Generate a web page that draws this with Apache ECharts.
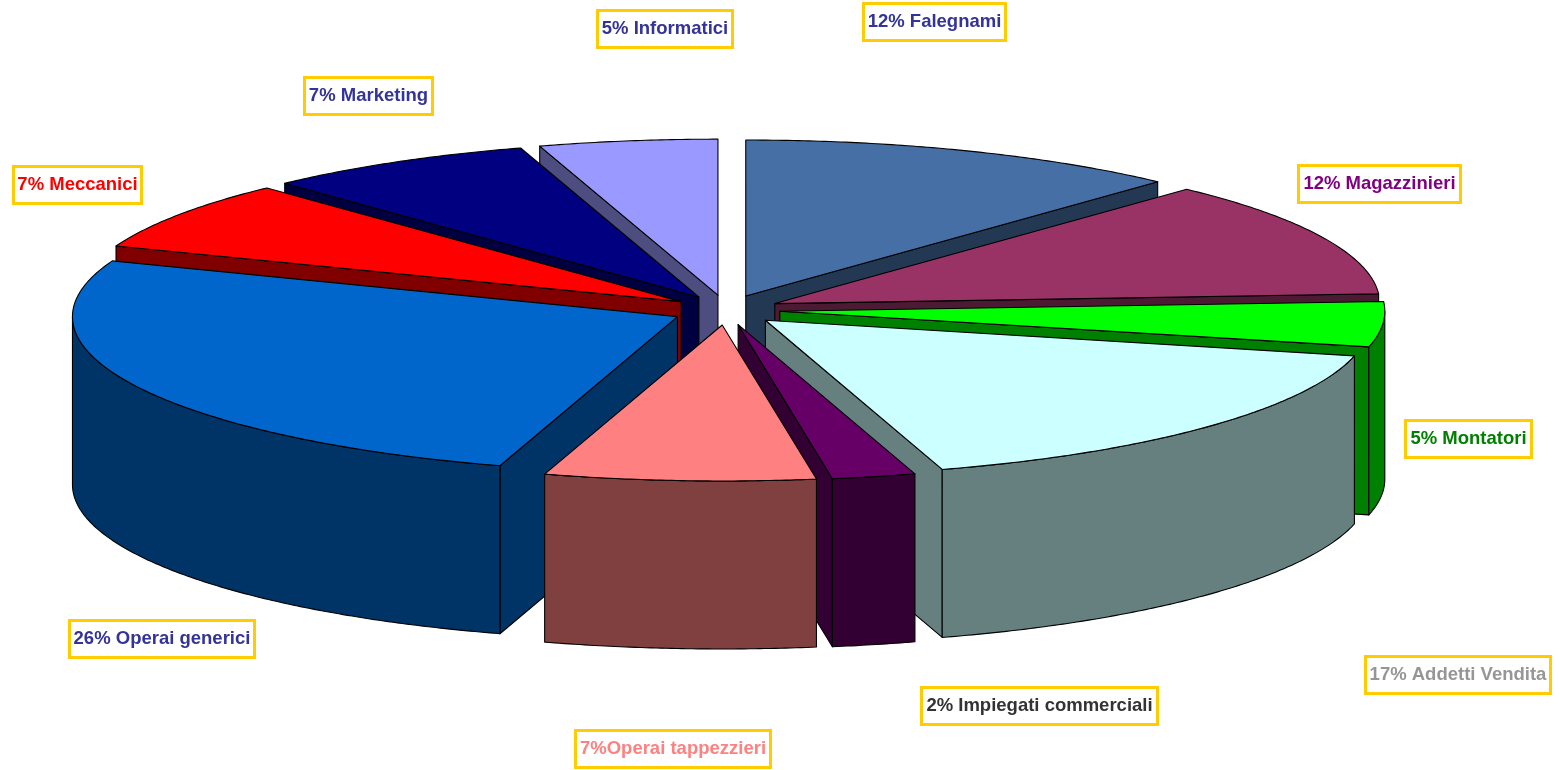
<!DOCTYPE html>
<html>
<head>
<meta charset="utf-8">
<style>html,body{margin:0;padding:0;background:#fff}#c{width:1560px;height:770px}</style>
<script src="https://cdn.jsdelivr.net/npm/echarts@6/dist/echarts.min.js"></script>
</head>
<body>
<div id="c"></div>
<script>
// Data, clockwise from 12 o'clock
const categories = ['Falegnami','Magazzinieri','Montatori','Addetti Vendita','Impiegati commerciali','Operai tappezzieri','Operai generici','Meccanici','Marketing','Informatici'];
const shares = [11.92, 12.08, 4.67, 16.61, 2.23, 7.23, 26.07, 7.19, 7.24, 4.76];
const labelTexts = ['12% Falegnami','12% Magazzinieri','5% Montatori','17% Addetti Vendita','2% Impiegati commerciali','7%Operai tappezzieri','26% Operai generici','7% Meccanici','7% Marketing','5% Informatici'];

// Styles
const topColors = ['#4670A5','#993366','#00FF00','#CCFFFF','#660066','#FF8080','#0066CC','#FF0000','#000080','#9999FF'];
const sideColors = ['#233852','#4D1A33','#008000','#668080','#330033','#804040','#003366','#800000','#000040','#4D4D80'];
const labelColors = ['#333399','#800080','#008000','#969696','#333333','#FF8080','#333399','#FF0000','#333399','#333399'];
const labelBoxes = [[863.5,3.5,142,37],[1298.5,165.5,162,37],[1405.5,420.5,126,37],[1365.5,656.5,185,37],[921.5,687.5,236,37],[575.5,730.5,195,37],[69.5,620.5,185,37],[13.5,166.5,128,37],[304.5,77.5,128,37],[597.5,10.5,135,37]];

// Pie geometry (pixels)
const CX = 726, CY = 310, RX = 605, RY = 156, DEPTH = 168, EXPLODE_X = 54, EXPLODE_Y = 15;

const total = shares.reduce((a, b) => a + b, 0);
let acc = 0;
const sliceData = shares.map((v, i) => {
  const s = acc / total * 360;
  acc += v;
  return { name: categories[i], value: [i, v, s, acc / total * 360] };
});
const depthRank = sliceData
  .map((d, i) => ({ i, k: -Math.cos((d.value[2] + d.value[3]) / 2 * Math.PI / 180) }))
  .sort((a, b) => a.k - b.k)
  .reduce((m, o, r) => { m[o.i] = r; return m; }, {});

function renderSlice(params, api) {
  const i = api.value(0), a0 = api.value(2), a1 = api.value(3);
  const mid = (a0 + a1) / 2 * Math.PI / 180;
  const ax = CX + Math.sin(mid) * EXPLODE_X, ay = CY - Math.cos(mid) * EXPLODE_Y;
  const pt = (deg) => {
    const t = deg * Math.PI / 180;
    return [ax + Math.sin(t) * RX, ay - Math.cos(t) * RY];
  };
  const arc = (from, to) => {
    const pts = [], n = Math.max(2, Math.ceil((to - from) * 2));
    for (let k = 0; k <= n; k++) pts.push(pt(from + (to - from) * k / n));
    return pts;
  };
  const down = (p) => [p[0], p[1] + DEPTH];
  const base = depthRank[i] * 10;
  const style = (fill) => ({ fill, stroke: '#000', lineWidth: 1.1, lineJoin: 'round' });
  const poly = (points, fill, z) => ({ type: 'polygon', shape: { points }, style: style(fill), z2: base + z, silent: true });
  const children = [];
  const apex = [ax, ay];
  const wall = (a) => {
    const e = pt(a);
    children.push(poly([apex, e, down(e), down(apex)], sideColors[i], 1));
  };
  // only the radial walls that face the viewer
  if (Math.sin(a0 * Math.PI / 180) < 0) wall(a0);
  if (Math.sin(a1 * Math.PI / 180) > 0) wall(a1);
  const f0 = Math.max(a0, 90), f1 = Math.min(a1, 270);
  if (f1 > f0) {
    const top = arc(f0, f1);
    children.push(poly(top.concat(top.map(down).reverse()), sideColors[i], 2));
  }
  children.push(poly([apex].concat(arc(a0, a1)), topColors[i], 3));
  return { type: 'group', children };
}

function renderLabel(params, api) {
  const i = api.value(0), b = labelBoxes[i];
  return {
    type: 'group',
    children: [
      { type: 'rect', shape: { x: b[0], y: b[1], width: b[2], height: b[3] }, style: { fill: '#fff', stroke: '#FFCC00', lineWidth: 3 }, z2: 200, silent: true },
      { type: 'text', x: b[0] + b[2] / 2, y: b[1] + b[3] / 2, z2: 201, silent: true,
        style: { text: labelTexts[i], fill: labelColors[i], font: 'bold 18.5px "Liberation Sans", Arial, sans-serif', align: 'center', verticalAlign: 'middle' } }
    ]
  };
}

const chart = echarts.init(document.getElementById('c'), null, { renderer: 'canvas' });
chart.setOption({
  backgroundColor: '#ffffff',
  animation: false,
  series: [
    { type: 'custom', coordinateSystem: 'none', renderItem: renderSlice, data: sliceData, silent: true, clip: false },
    { type: 'custom', coordinateSystem: 'none', renderItem: renderLabel, data: sliceData, silent: true, clip: false, z: 3 }
  ]
});
</script>
</body>
</html>
